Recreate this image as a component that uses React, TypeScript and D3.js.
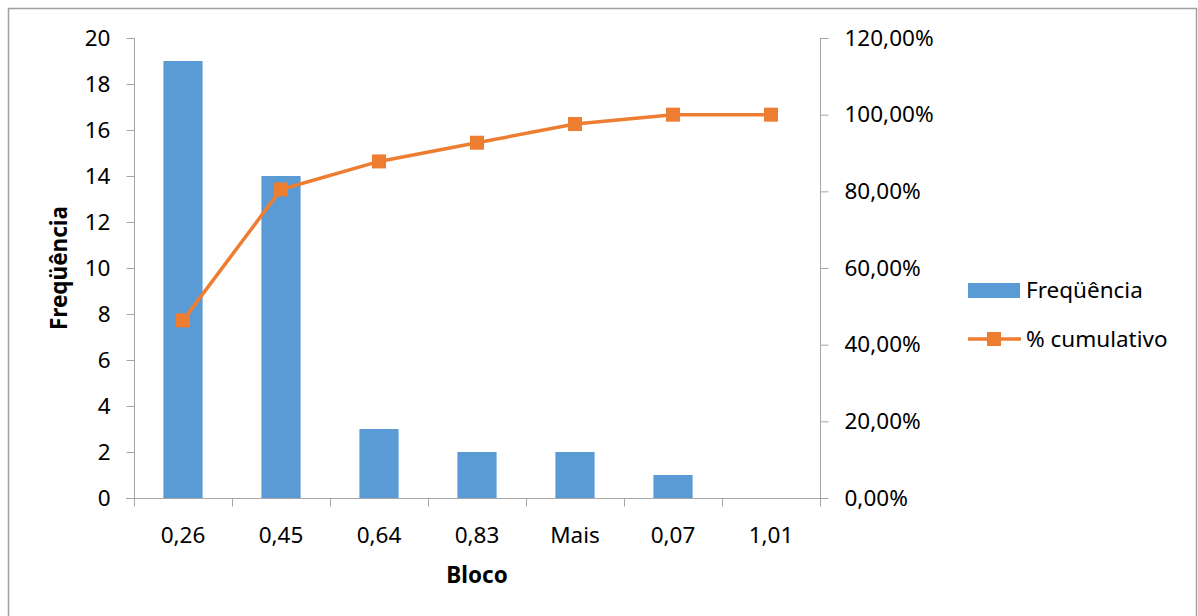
import React, { useEffect, useRef } from 'react';
import * as d3 from 'd3';

const categories = ['0,26', '0,45', '0,64', '0,83', 'Mais', '0,07', '1,01'];
const frequencies = [19, 14, 3, 2, 2, 1, 0];
const cumulative = [0.4634, 0.8049, 0.878, 0.9268, 0.9756, 1.0, 1.0];
const leftTicks = [0, 2, 4, 6, 8, 10, 12, 14, 16, 18, 20];
const rightTicks = [0, 0.2, 0.4, 0.6, 0.8, 1.0, 1.2];

const W = 1198;
const H = 616;
const FONT = '"Noto Sans", "Open Sans", sans-serif';
const FS = 22.5;
const BAR = '#5B9BD5';
const LINE = '#ED7D31';
const AXIS = '#A6A6A6';

const App: React.FC = () => {
  const svgRef = useRef<SVGSVGElement>(null);

  useEffect(() => {
    if (!svgRef.current) return;
    const svg = d3.select(svgRef.current);
    svg.selectAll('*').remove();

    // chart frame
    svg.append('rect')
      .attr('x', 8.5).attr('y', 8.5)
      .attr('width', 1188).attr('height', 620)
      .attr('fill', '#fff')
      .attr('stroke', '#A0A0A0')
      .attr('stroke-width', 1.5);

    const left = 134;
    const right = 820;
    const top = 38;
    const bottom = 498;

    const x = d3.scaleBand<string>().domain(categories).range([left, right]).paddingInner(0.6).paddingOuter(0.3);
    const xBand = d3.scaleBand<string>().domain(categories).range([left, right]);
    const y = d3.scaleLinear().domain([0, 20]).range([bottom, top]);
    const y2 = d3.scaleLinear().domain([0, 1.2]).range([bottom, top]);

    // bars
    svg.append('g')
      .selectAll('rect')
      .data(frequencies)
      .enter()
      .append('rect')
      .attr('x', (_d, i) => x(categories[i])!)
      .attr('width', x.bandwidth())
      .attr('y', d => y(d))
      .attr('height', d => bottom - y(d))
      .attr('fill', BAR);

    // left axis
    const gl = svg.append('g').attr('transform', `translate(${left + 0.5},0)`);
    gl.call(d3.axisLeft(y).tickValues(leftTicks).tickSize(8).tickSizeOuter(0).tickPadding(16));
    gl.select('.domain').attr('stroke', AXIS).attr('d', `M0,${top}V${bottom}`);
    gl.selectAll('.tick line').attr('stroke', AXIS);
    gl.selectAll('.tick text').attr('font-family', FONT).attr('font-size', FS).attr('fill', '#000');

    // right axis
    const gr = svg.append('g').attr('transform', `translate(${right + 0.5},0)`);
    gr.call(d3.axisRight(y2).tickValues(rightTicks).tickSize(8).tickSizeOuter(0).tickPadding(16)
      .tickFormat(d => d3.format('.2f')((d as number) * 100).replace('.', ',') + '%'));
    gr.select('.domain').attr('stroke', AXIS).attr('d', `M0,${top}V${bottom}`);
    gr.selectAll('.tick line').attr('stroke', AXIS);
    gr.selectAll('.tick text').attr('font-family', FONT).attr('font-size', FS).attr('fill', '#000');

    // x axis
    const gx = svg.append('g').attr('transform', `translate(0,${bottom + 0.5})`);
    gx.append('line').attr('x1', left - 8).attr('x2', right + 8).attr('stroke', AXIS);
    const edges = categories.map(c => xBand(c)!).concat([right]);
    gx.selectAll('line.tk')
      .data(edges)
      .enter()
      .append('line')
      .attr('class', 'tk')
      .attr('x1', d => d + 0.5).attr('x2', d => d + 0.5)
      .attr('y1', 0).attr('y2', 8)
      .attr('stroke', AXIS);
    gx.selectAll('text')
      .data(categories)
      .enter()
      .append('text')
      .attr('x', d => xBand(d)! + xBand.bandwidth() / 2)
      .attr('y', 44)
      .attr('text-anchor', 'middle')
      .attr('font-family', FONT)
      .attr('font-size', FS)
      .text(d => d);

    // line + markers
    const cx = (i: number) => xBand(categories[i])! + xBand.bandwidth() / 2;
    const line = d3.line<number>().x((_d, i) => cx(i)).y(d => y2(d));
    svg.append('path')
      .datum(cumulative)
      .attr('d', line)
      .attr('fill', 'none')
      .attr('stroke', LINE)
      .attr('stroke-width', 3.5)
      .attr('stroke-linejoin', 'round');
    svg.append('g')
      .selectAll('rect')
      .data(cumulative)
      .enter()
      .append('rect')
      .attr('x', (_d, i) => cx(i) - 7)
      .attr('y', d => y2(d) - 7)
      .attr('width', 14)
      .attr('height', 14)
      .attr('fill', LINE);

    // axis titles
    svg.append('text')
      .attr('transform', `translate(67,268) rotate(-90)`)
      .attr('text-anchor', 'middle')
      .attr('font-family', FONT)
      .attr('font-size', FS)
      .attr('font-weight', 'bold')
      .text('Freqüência');
    svg.append('text')
      .attr('x', 477)
      .attr('y', 583)
      .attr('text-anchor', 'middle')
      .attr('font-family', FONT)
      .attr('font-size', FS)
      .attr('font-weight', 'bold')
      .text('Bloco');

    // legend
    const lg = svg.append('g');
    lg.append('rect').attr('x', 968).attr('y', 283).attr('width', 52).attr('height', 15).attr('fill', BAR);
    lg.append('text').attr('x', 1026).attr('y', 290).attr('dy', '0.35em')
      .attr('font-family', FONT).attr('font-size', FS).text('Freqüência');
    lg.append('line').attr('x1', 968).attr('x2', 1021).attr('y1', 339).attr('y2', 339)
      .attr('stroke', LINE).attr('stroke-width', 3.5);
    lg.append('rect').attr('x', 987).attr('y', 332).attr('width', 14).attr('height', 14).attr('fill', LINE);
    lg.append('text').attr('x', 1026).attr('y', 339).attr('dy', '0.35em')
      .attr('font-family', FONT).attr('font-size', FS).text('% cumulativo');
  }, []);

  return (
    <div style={{ position: 'absolute', left: 0, top: 0 }}>
      <svg ref={svgRef} width={W} height={H} style={{ display: 'block' }}></svg>
    </div>
  );
};

export default App;
